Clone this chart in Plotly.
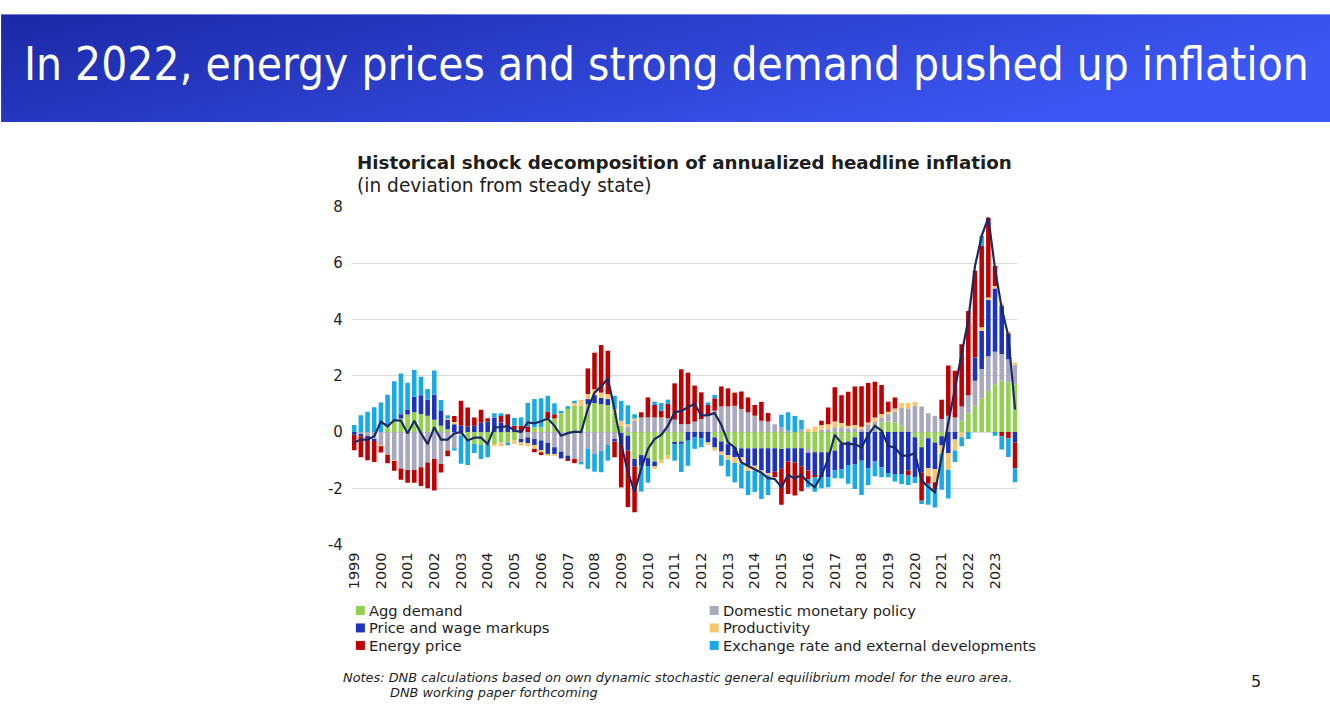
import base64
import plotly.graph_objects as go

# Measured page-to-photo mapping: the page (8px body margin) is photographed slightly scaled.
OFF = 8
SX, SY = 0.9932, 0.9765
W = int(round(1330 / SX - OFF)) + 2
H = int(round(718 / SY - OFF)) + 2

years = list(range(1999, 2024))
quarters = [f"{y}Q{q}" for y in years for q in range(1, 5)]

series_names = ["Agg demand", "Domestic monetary policy", "Price and wage markups",
                "Productivity", "Energy price", "Exchange rate and external developments"]
series_colors = ["#92D050", "#A8A8BE", "#1B33BE", "#F8C46C", "#C00000", "#19A9E6"]

agg_demand = [
    0, 0, 0, 0, 0, 0.22, 0.42, 0.48, 0.62, 0.7,
    0.64, 0.58, 0.44, 0.22, 0.1, 0, 0, -0.25, -0.43, -0.46,
    -0.43, -0.43, -0.37, -0.37, -0.3, 0, 0, 0.17, 0.17, 0.48,
    0.48, 0.67, 0.82, 0.93, 0.93, 0.99, 1.03, 0.99, 0.96, 0.7,
    0.22, -0.13, -0.96, -0.82, -0.93, -1.05, -0.99, -0.84, -0.37, -0.34,
    0, 0, 0, 0, -0.19, -0.34, -0.43, -0.54, -0.58, -0.58,
    -0.58, -0.58, -0.58, -0.58, -0.6, -0.58, -0.58, -0.58, -0.6, -0.72,
    -0.72, -0.72, -0.66, -0.43, -0.34, -0.19, 0, 0, 0, 0.34,
    0.37, 0.34, 0.22, 0, -0.19, -0.54, -0.22, -0.37, -0.15, 0,
    0, 0.4, 0.67, 0.93, 1.2, 1.47, 1.7, 1.82, 1.76, 1.7,
]
monetary_policy = [
    0, -0.07, -0.15, -0.25, -0.48, -0.78, -1.0, -1.3, -1.35, -1.35,
    -1.25, -1.08, -0.96, -1.14, -0.66, -0.58, -0.13, 0, 0, 0,
    0, 0, 0, 0, 0, -0.25, -0.19, -0.25, -0.3, -0.39,
    -0.54, -0.7, -0.84, -0.96, -1.08, -0.6, -0.78, -0.66, -0.46, -0.25,
    -0.04, 0.2, 0.39, 0.52, 0.52, 0.52, 0.52, 0.49, 0.44, 0.28,
    0.28, 0.37, 0.46, 0.58, 0.76, 0.91, 0.91, 0.93, 0.82, 0.7,
    0.58, 0.4, 0.37, 0.28, 0.17, 0.05, 0, 0.1, -0.14, 0,
    0.08, 0.1, 0.17, 0.17, 0.13, 0.13, 0.1, 0.25, 0.37, 0.18,
    0.26, 0.38, 0.64, 0.84, 0.93, 0.91, 0.67, 0.58, 0.46, 0.58,
    0.52, 0.51, 0.64, 0.89, 1.04, 1.22, 1.15, 0.95, 0.83, 0.69,
]
markups = [
    -0.1, -0.08, -0.05, -0.07, 0, 0, 0, 0.15, 0.18, 0.55,
    0.67, 0.57, 0.88, 0.53, 0.33, 0.28, 0.22, 0.2, 0.22, 0.34,
    0.37, 0.52, 0.34, 0.22, 0.1, -0.12, -0.2, -0.21, -0.36, -0.39,
    -0.24, -0.24, -0.12, 0, 0, 0.18, 0.28, 0.22, 0.21, -0.09,
    -0.39, -0.53, -0.26, -0.38, -0.28, -0.17, 0, 0, -0.06, -0.08,
    -0.31, -0.19, -0.22, -0.37, -0.36, -0.36, -0.39, -0.36, -0.32, -0.62,
    -0.62, -0.79, -0.88, -0.83, -0.71, -0.47, -0.5, -0.64, -0.63, -0.83,
    -0.89, -0.89, -0.71, -0.89, -0.83, -0.95, -1.02, -1.29, -1.05, -1.25,
    -1.46, -1.49, -1.49, -1.37, -1.42, -0.89, -1.07, -0.95, -0.33, -0.75,
    -0.27, 0, 0, 0.83, 1.36, 2.01, 2.25, 1.74, 0.92, -0.37,
]
productivity = [
    0, 0, 0, 0, -0.03, -0.03, -0.03, 0, 0, 0,
    0, 0, 0, 0, 0.05, 0.08, 0, 0, 0, 0,
    0, -0.08, -0.14, 0, -0.12, -0.12, -0.12, -0.14, -0.06, -0.04,
    -0.06, 0, 0, 0.12, 0.21, 0.18, 0.21, 0.19, 0.18, 0.12,
    0.18, 0.08, 0.09, 0, 0, -0.09, -0.12, -0.12, 0, 0,
    0, 0, 0, -0.09, -0.12, -0.12, -0.17, -0.2, -0.24, -0.18,
    -0.18, -0.12, -0.09, 0, 0, 0, 0, 0, 0.12, 0.2,
    0.17, 0.18, 0.2, 0.15, 0.09, 0.12, 0.09, 0.09, 0.15, 0.12,
    0.09, 0.12, 0.17, 0.19, 0.14, 0, -0.28, -0.47, -0.3, -0.59,
    -0.39, -0.19, 0, 0, 0.12, 0.08, 0.09, 0.07, 0.08, 0.08,
]
energy_price = [
    -0.55, -0.75, -0.8, -0.75, -0.22, -0.3, -0.35, -0.4, -0.45, -0.45,
    -0.67, -0.92, -1.12, -0.3, -0.2, 0.21, 0.89, 0.67, 0.3, 0.45,
    0.12, 0, 0.26, 0.41, 0.12, 0.22, 0.2, -0.12, -0.1, 0.24,
    0.15, 0, -0.06, -0.15, 0, 0.91, 1.3, 1.69, 1.54, -0.56,
    -1.54, -2.01, -1.63, 0.18, 0.71, 0.44, 0.24, 0.51, 1.29, 1.95,
    1.83, 1.28, 0.95, 0.38, 0.44, 0.71, 0.64, 0.47, 0.62, 0.53,
    0.38, 0.67, 0.31, -0.2, -1.28, -1.15, -1.18, -0.89, -0.3, -0.06,
    0.15, 0.59, 1.22, 0.99, 1.21, 1.37, 1.44, 1.4, 1.27, 1.03,
    0.36, 0.39, 0, -0.18, 0, -1.01, -0.27, -0.24, 0.69, 1.78,
    1.66, 2.21, 2.99, 3.08, 2.9, 2.84, 0.71, -0.15, -0.22, -0.92,
]
exchange_rate = [
    0.25, 0.6, 0.72, 0.88, 1.05, 1.1, 1.38, 1.45, 0.95, 0.95,
    0.65, 0.38, 0.87, 0.39, 0.12, -0.08, -1.0, -0.92, -0.32, -0.5,
    -0.47, 0.15, 0.07, -0.1, 0.28, 0.3, 0.83, 1.0, 1.03, 0.57,
    0.39, 0.08, 0.1, 0.06, -0.07, -0.71, -0.63, -0.77, -0.56, 0.47,
    0.71, 0.67, 0.15, -0.92, -0.59, 0.12, 0.27, 0.15, -0.59, -1.0,
    -0.89, -0.41, -0.32, 0.09, 0.12, -0.38, -0.59, -0.69, -0.86, -0.86,
    -0.75, -0.89, -0.69, 0, 0.44, 0.65, 0.57, 0.33, -0.3, -0.51,
    -0.39, -0.35, -0.27, -0.33, -0.67, -0.89, -1.22, -0.59, -0.52, -0.36,
    -0.15, -0.27, -0.36, -0.33, -0.2, -0.12, -0.75, -0.65, -1.27, -1.02,
    -0.41, -0.32, -0.25, 0, 0.36, 0, -0.13, -0.47, -0.67, -0.5,
]
headline = [
    -0.37, -0.27, -0.27, -0.15, 0.37, 0.2, 0.42, 0.4, -0.05, 0.4,
    -0.04, -0.43, 0.17, -0.27, -0.27, -0.05, 0.0, -0.3, -0.2, -0.2,
    -0.43, 0.17, 0.17, 0.22, 0.05, 0.0, 0.34, 0.31, 0.38, 0.48,
    0.22, -0.13, -0.04, 0.01, 0.0, 0.82, 1.4, 1.62, 1.9, 0.8,
    -0.43, -1.43, -2.12, -1.3, -0.6, -0.25, -0.1, 0.22, 0.7, 0.75,
    0.88, 1.0, 0.58, 0.6, 0.67, 0.25, -0.37, -0.55, -1.08, -1.2,
    -1.3, -1.45, -1.64, -1.67, -1.96, -1.53, -1.65, -1.53, -1.79, -1.96,
    -1.55, -0.96, -0.1, -0.4, -0.43, -0.43, -0.55, -0.1, 0.22, 0.05,
    -0.5, -0.55, -0.84, -0.84, -0.75, -1.73, -1.95, -2.14, -0.9, 0.3,
    1.5, 2.8, 4.0, 5.9, 6.97, 7.62, 5.8, 4.4, 3.4, 0.8,
]

series_values = [agg_demand, monetary_policy, markups, productivity, energy_price, exchange_rate]

y_ticks = [-4, -2, 0, 2, 4, 6, 8]
y_tick_text = ["-4", "-2", "0", "2", "4", "6", "8"]
tick_years = [str(y) for y in years]
tick_vals = [f"{y}Q1" for y in years]

slide_title = "In 2022, energy prices and strong demand pushed up inflation"
chart_title = "Historical shock decomposition of annualized headline inflation"
chart_subtitle = "(in deviation from steady state)"
notes_1 = "Notes: DNB calculations based on own dynamic stochastic general equilibrium model for the euro area."
notes_2 = "DNB working paper forthcoming"
page_no = "5"

FONT = "DejaVu Sans, Verdana, sans-serif"
TXT = "#1e1e1e"


def fx(x):
    """photo x -> figure pixel x"""
    return x / SX - OFF


def fy(y):
    """photo y -> figure pixel y (from top)"""
    return y / SY - OFF


def px(x):
    return fx(x) / W


def py(y):
    return 1 - fy(y) / H


fig = go.Figure()
for name, vals, color in zip(series_names, series_values, series_colors):
    fig.add_trace(go.Bar(x=quarters, y=vals, name=name, marker_color=color,
                         marker_line_width=0, showlegend=False))
fig.add_trace(go.Scatter(x=quarters, y=headline, mode="lines", name="Headline inflation",
                         line=dict(color="#1A2A62", width=2.2), showlegend=False))

# banner gradient
svg = ("<svg xmlns='http://www.w3.org/2000/svg' width='1340' height='110' preserveAspectRatio='none'>"
       "<defs><linearGradient id='g' x1='0' y1='0' x2='1' y2='0.35'>"
       "<stop offset='0' stop-color='#1B28A6'/><stop offset='1' stop-color='#3C57F4'/>"
       "</linearGradient></defs><rect width='1340' height='110' fill='url(#g)'/></svg>")
src = "data:image/svg+xml;base64," + base64.b64encode(svg.encode()).decode()

banner_x0, banner_x1 = px(3), px(1332)
banner_y0, banner_y1 = py(13), py(121)

annotations = [
    dict(text=slide_title, x=px(24), y=py(63), xanchor="left", yanchor="middle",
         font=dict(family="DejaVu Sans Condensed, DejaVu Sans, sans-serif", size=45.6, color="white")),
    dict(text=f"<b>{chart_title}</b>", x=px(356), y=py(161), xanchor="left", yanchor="middle",
         font=dict(family=FONT, size=18.3, color=TXT)),
    dict(text=chart_subtitle, x=px(356), y=py(185), xanchor="left", yanchor="middle",
         font=dict(family=FONT, size=18.6, color=TXT)),
    dict(text=f"<i>{notes_1}</i>", x=px(342), y=py(677), xanchor="left", yanchor="middle",
         font=dict(family=FONT, size=12.9, color=TXT)),
    dict(text=f"<i>{notes_2}</i>", x=px(389), y=py(692), xanchor="left", yanchor="middle",
         font=dict(family=FONT, size=12.9, color=TXT)),
    dict(text=page_no, x=px(1255), y=py(681), xanchor="center", yanchor="middle",
         font=dict(family=FONT, size=16, color=TXT)),
]
shapes = []
for i, (name, color) in enumerate(zip(series_names, series_colors)):
    col, row = i % 2, i // 2
    x0 = 357 + col * 353
    yc = 610 + row * 17.5
    shapes.append(dict(type="rect", xref="paper", yref="paper", x0=px(x0), x1=px(x0 + 9),
                       y0=py(yc - 4.5), y1=py(yc + 4.5), fillcolor=color, line=dict(width=0)))
    annotations.append(dict(text=name, x=px(x0 + 11), y=py(yc), xanchor="left", yanchor="middle",
                            font=dict(family=FONT, size=14.7, color=TXT)))

for a in annotations:
    a.update(xref="paper", yref="paper", showarrow=False)

fig.update_layout(
    width=W, height=H, margin=dict(l=0, r=0, t=0, b=0),
    paper_bgcolor="white", plot_bgcolor="white",
    barmode="relative", bargap=0.32,
    font=dict(family=FONT, color=TXT),
    images=[dict(source=src, xref="paper", yref="paper", x=banner_x0, y=banner_y0,
                 sizex=banner_x1 - banner_x0, sizey=banner_y0 - banner_y1, sizing="stretch",
                 xanchor="left", yanchor="top", layer="below")],
    annotations=annotations, shapes=shapes,
    xaxis=dict(domain=[px(353), px(1017)], range=[-0.35, 99.35], type="category",
               tickvals=tick_vals, ticktext=tick_years, tickangle=-90,
               tickfont=dict(size=14.5, color=TXT), showgrid=False, showline=False,
               ticks="", ticklabelstandoff=4),
    yaxis=dict(domain=[py(544), py(206)], range=[-4, 8], tickvals=y_ticks,
               ticktext=y_tick_text,
               tickfont=dict(size=15, color=TXT), showgrid=True, gridcolor="#D9D9D9",
               gridwidth=1, zeroline=False, showline=False, ticks="", ticklabelstandoff=8),
)

fig.write_html("out.html")
